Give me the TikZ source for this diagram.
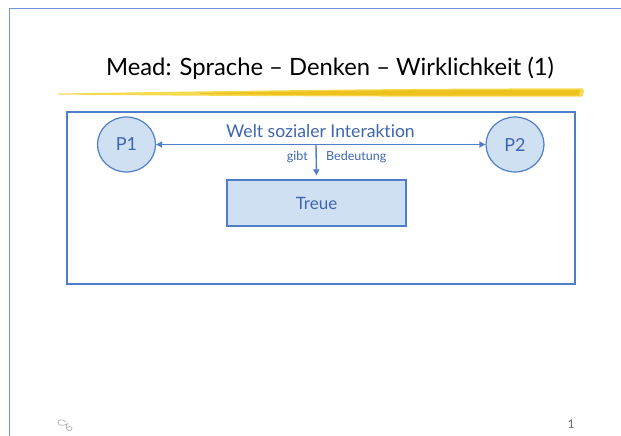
\documentclass[tikz,border=0pt]{standalone}
\usepackage{fontspec}
\setmainfont{Lato}[Ligatures=NoCommon]
\usetikzlibrary{arrows.meta,shapes.geometric}
\definecolor{lineblue}{RGB}{79,125,200}
\definecolor{textblue}{RGB}{62,102,176}
\definecolor{fillblue}{RGB}{208,224,243}
\definecolor{framblue}{RGB}{110,150,215}
\definecolor{hlA}{RGB}{238,194,30}
\definecolor{hlB}{RGB}{245,218,80}
\tikzset{
  person/.style={ellipse, draw=lineblue, line width=1.2pt, fill=fillblue, minimum width=58pt, minimum height=55pt, inner sep=0pt, text=textblue, font=\fontsize{18}{18}\selectfont},
  concept/.style={rectangle, draw=lineblue, line width=1.2pt, fill=fillblue, minimum width=179pt, minimum height=46pt, text=textblue, font=\fontsize{17}{17}\selectfont},
  lbl/.style={text=textblue, inner sep=0pt},
  conn/.style={draw=lineblue, line width=1.4pt, -{Triangle[length=6pt,width=6pt]}},
}
\begin{document}
\begin{tikzpicture}[x=1pt,y=-1pt]
\useasboundingbox (0,0) rectangle (621,436);
\fill[white] (0,0) rectangle (621,436);
% slide frame
\draw[framblue, line width=1pt] (9,436) -- (9,9) -- (621,9);
% title
\node[inner sep=0pt, font=\fontsize{23.8}{24}\selectfont] (title) at (330,68) {Mead: Sprache – Denken – Wirklichkeit (1)};
% yellow highlight stroke
\fill[hlB] (58,93.5) .. controls (200,91.5) and (400,88) .. (583,88.5) -- (584,92) -- (582,96.5) .. controls (400,97) and (200,96) .. (58,94.5) -- cycle;
\fill[hlA] (200,93) .. controls (330,90.5) and (450,89.5) .. (580,90) -- (579,95.5) .. controls (450,96) and (330,95.5) .. (200,94) -- cycle;
% outer box
\node[draw=lineblue, line width=1.5pt, minimum width=508pt, minimum height=172pt, inner sep=0pt] (world) at (321,198) {};
% persons
\node[person] (p1) at (126.5,144.5) {P1};
\node[person] (p2) at (515,144.5) {P2};
% labels
\node[lbl, font=\fontsize{17.6}{18}\selectfont] (welt) at (320.5,131) {Welt sozialer Interaktion};
\draw[conn, {Triangle[length=6pt,width=6pt]}-{Triangle[length=6pt,width=6pt]}] (p1.east) -- (p2.west);
\coordinate (mid) at (316,144.5);
\node[concept] (treue) at (316.5,203) {Treue};
\draw[conn, shorten >=4pt] (mid) -- (treue.north);
\node[lbl, font=\fontsize{12.5}{12.5}\selectfont, anchor=east] (gibt) at (308,157) {gibt};
\node[lbl, font=\fontsize{12.5}{12.5}\selectfont, anchor=west] (bed) at (326,157) {Bedeutung};
% footer
\node[text=black!60, font=\fontsize{12}{12}\selectfont, inner sep=0pt] (pnum) at (571,424) {1};
\draw[gray!60, line width=0.7pt] (66,422) .. controls (63,419) and (58,419) .. (58,422.5) .. controls (58,426) and (64,426) .. (67,424) .. controls (70,422) and (66,424) .. (66,427) .. controls (66,431) and (72,432) .. (72,428.5) .. controls (72,426) and (68,426) .. (66,428);
\end{tikzpicture}
\end{document}
